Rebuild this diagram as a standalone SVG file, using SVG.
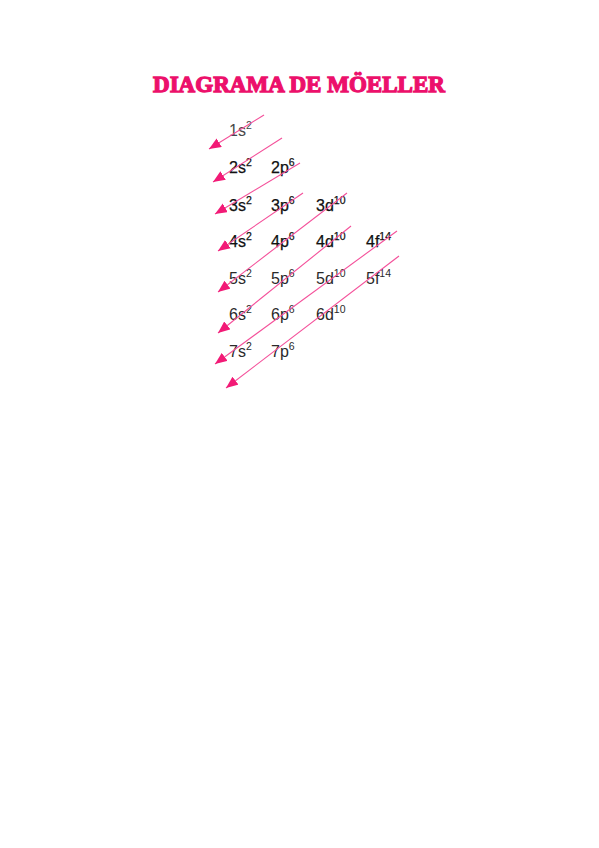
<svg xmlns="http://www.w3.org/2000/svg" width="599" height="848" viewBox="0 0 599 848">
<defs>
<marker id="ah" markerUnits="userSpaceOnUse" markerWidth="13" markerHeight="11" refX="12" refY="5" orient="auto" viewBox="0 0 13 11">
<path d="M0,0 L12,5 L0,10 z" fill="#F21A76"/>
</marker>
<style>
.t{font-family:"Liberation Serif",serif;font-weight:bold;font-size:24px;fill:#EC106B;stroke:#EC106B;stroke-width:1.3px}
.l{font-family:"Liberation Sans",Arial,sans-serif;font-size:16px;fill:#2a2a2a}
.b{fill:#111;stroke:#111;stroke-width:0.25px}
.g{fill:#484848}
.s{font-size:10.5px}
.c line{stroke:#F4509A;stroke-width:1.1;fill:none;marker-end:url(#ah)}
</style>
</defs>
<rect width="599" height="848" fill="#fff"/>
<text class="t" x="299" y="92" text-anchor="middle" textLength="292" lengthAdjust="spacingAndGlyphs">DIAGRAMA DE MÖELLER</text>
<g id="n1s"><text class="l g" x="229" y="136">1s<tspan class="s" dy="-7">2</tspan></text></g>
<g id="n2s"><text class="l b" x="229" y="173">2s<tspan class="s" dy="-7">2</tspan></text></g>
<g id="n2p"><text class="l b" x="271" y="173">2p<tspan class="s" dy="-7">6</tspan></text></g>
<g id="n3s"><text class="l b" x="229" y="211">3s<tspan class="s" dy="-7">2</tspan></text></g>
<g id="n3p"><text class="l b" x="271" y="211">3p<tspan class="s" dy="-7">6</tspan></text></g>
<g id="n3d"><text class="l b" x="316" y="211">3d<tspan class="s" dy="-7">10</tspan></text></g>
<g id="n4s"><text class="l b" x="229" y="247">4s<tspan class="s" dy="-7">2</tspan></text></g>
<g id="n4p"><text class="l b" x="271" y="247">4p<tspan class="s" dy="-7">6</tspan></text></g>
<g id="n4d"><text class="l b" x="316" y="247">4d<tspan class="s" dy="-7">10</tspan></text></g>
<g id="n4f"><text class="l b" x="366" y="247">4f<tspan class="s" dy="-7">14</tspan></text></g>
<g id="n5s"><text class="l" x="229" y="284">5s<tspan class="s" dy="-7">2</tspan></text></g>
<g id="n5p"><text class="l" x="271" y="284">5p<tspan class="s" dy="-7">6</tspan></text></g>
<g id="n5d"><text class="l" x="316" y="284">5d<tspan class="s" dy="-7">10</tspan></text></g>
<g id="n5f"><text class="l" x="366" y="284">5f<tspan class="s" dy="-7">14</tspan></text></g>
<g id="n6s"><text class="l" x="229" y="320">6s<tspan class="s" dy="-7">2</tspan></text></g>
<g id="n6p"><text class="l" x="271" y="320">6p<tspan class="s" dy="-7">6</tspan></text></g>
<g id="n6d"><text class="l" x="316" y="320">6d<tspan class="s" dy="-7">10</tspan></text></g>
<g id="n7s"><text class="l" x="229" y="357">7s<tspan class="s" dy="-7">2</tspan></text></g>
<g id="n7p"><text class="l" x="271" y="357">7p<tspan class="s" dy="-7">6</tspan></text></g>
<g id="connectors" class="c">
<line x1="264" y1="115" x2="209" y2="149"/>
<line x1="282" y1="138" x2="213" y2="182"/>
<line x1="300" y1="163" x2="215" y2="214"/>
<line x1="303" y1="193" x2="218" y2="251"/>
<line x1="347" y1="193" x2="218" y2="292"/>
<line x1="351" y1="226" x2="218" y2="333"/>
<line x1="397" y1="231" x2="215" y2="364"/>
<line x1="399" y1="256" x2="226" y2="388"/>
</g>
</svg>
